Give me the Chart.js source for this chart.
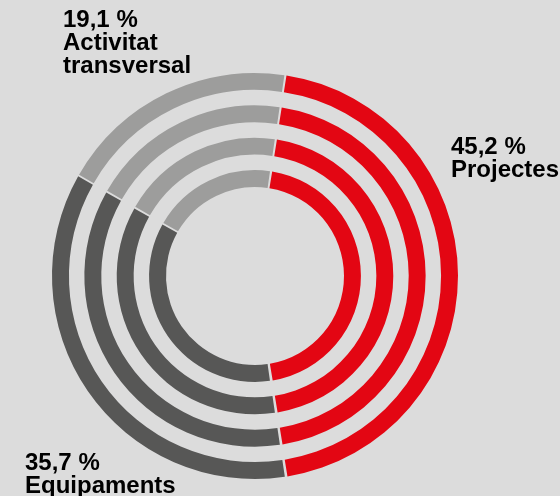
<!DOCTYPE html>
<html>
<head>
<meta charset="utf-8">
<script src="https://cdn.jsdelivr.net/npm/chart.js@4.4.1/dist/chart.umd.min.js"></script>
<style>
  html, body { margin: 0; padding: 0; background: #dcdcdc; }
  #wrap { position: relative; width: 560px; height: 496px; overflow: hidden; }
  #chart { position: absolute; left: 0; top: 0; }
  .lbl {
    position: absolute;
    font-family: "Liberation Sans", Arial, sans-serif;
    font-weight: bold;
    font-size: 24px;
    line-height: 23px;
    color: #000;
    white-space: nowrap;
  }
</style>
</head>
<body>
<div id="wrap">
  <canvas id="chart" width="560" height="496"></canvas>
</div>
<script>
// Data
const categories = ['Projectes', 'Equipaments', ['Activitat', 'transversal']];
const shares = [45.2, 35.7, 19.1];
const colors = ['#e30613', '#575756', '#9d9d9c'];
const ringCount = 4;

// label placement (left, top) for each category
const labelPos = [[451, 134], [25, 450], [63, 7]];

// Build datasets: 4 rings with transparent spacer rings in between
const datasets = [];
for (let i = 0; i < ringCount; i++) {
    datasets.push({
        data: shares,
        backgroundColor: colors,
        borderWidth: 0,
        weight: 17
    });
    if (i < ringCount - 1) {
        datasets.push({
            data: [1],
            backgroundColor: 'rgba(0,0,0,0)',
            borderWidth: 0,
            weight: 15.5
        });
    }
}

const outerR = 202;
const innerR = 88;

new Chart(document.getElementById('chart'), {
    type: 'doughnut',
    data: {
        labels: categories.map(c => Array.isArray(c) ? c.join(' ') : c),
        datasets: datasets
    },
    options: {
        responsive: false,
        animation: false,
        events: [],
        rotation: 8.5,
        radius: outerR,
        cutout: (innerR / outerR * 100) + '%',
        spacing: 2,
        layout: {
            padding: { left: 0, right: 50, top: 56, bottom: 0 }
        },
        plugins: {
            legend: { display: false },
            tooltip: { enabled: false }
        }
    }
});

// Labels as HTML text
const wrap = document.getElementById('wrap');
categories.forEach((cat, i) => {
    const div = document.createElement('div');
    div.className = 'lbl';
    div.style.left = labelPos[i][0] + 'px';
    div.style.top = labelPos[i][1] + 'px';
    const lines = [shares[i].toFixed(1).replace('.', ',') + ' %'].concat(cat);
    div.innerHTML = lines.join('<br>');
    wrap.appendChild(div);
});
</script>
</body>
</html>
